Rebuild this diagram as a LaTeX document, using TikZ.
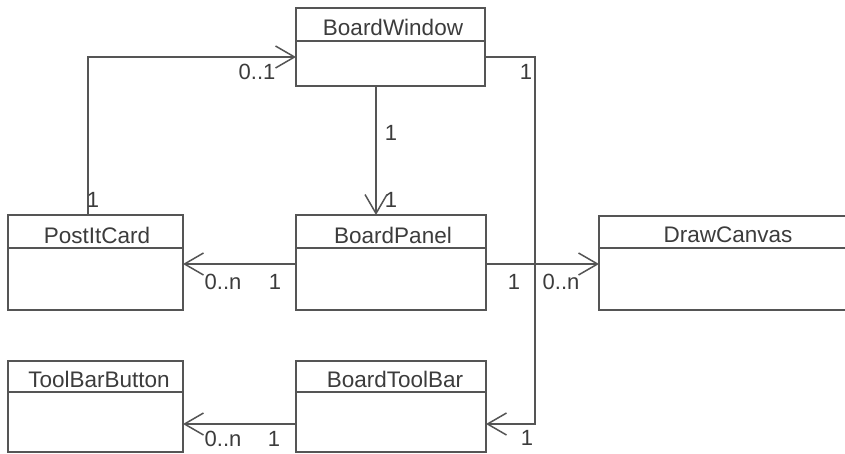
\documentclass[tikz,border=0pt]{standalone}
\usepackage{fontspec}
\setmainfont{Liberation Sans}
\usetikzlibrary{arrows.meta}
\definecolor{linegray}{RGB}{85,85,85}
\definecolor{textgray}{RGB}{60,60,60}
\begin{document}
\begin{tikzpicture}[x=1pt,y=-1pt,
  classbox/.style={draw=linegray, line width=1.5pt, rectangle, inner sep=0pt, outer sep=0pt},
  title/.style={text=textgray, font=\fontsize{22.5}{25}\selectfont, inner sep=0pt},
  mult/.style={text=textgray, font=\fontsize{22}{25}\selectfont, inner sep=0pt},
  hdr/.style={draw=linegray, line width=1.5pt},
  assoc/.style={draw=linegray, line width=1.5pt, -{Straight Barb[length=19pt,width=22pt,line width=1.5pt]}}]
\useasboundingbox (0,0) rectangle (845,454);
\fill[white] (0,0) rectangle (845,454);

% class boxes
\node[classbox, minimum width=189pt, minimum height=78pt] (bw) at (390.5,47) {};
\node[classbox, minimum width=175pt, minimum height=95pt] (pc) at (95.5,262.5) {};
\node[classbox, minimum width=190pt, minimum height=95pt] (bp) at (391,262.5) {};
\node[classbox, minimum width=258pt, minimum height=94pt] (dc) at (728,263) {};
\node[classbox, minimum width=175pt, minimum height=91pt] (tbb) at (95.5,406.5) {};
\node[classbox, minimum width=190pt, minimum height=91pt] (tb) at (391,406.5) {};

% header lines
\draw[hdr] (296,41) -- (485,41);
\draw[hdr] (8,248) -- (183,248);
\draw[hdr] (296,248) -- (486,248);
\draw[hdr] (599,248) -- (857,248);
\draw[hdr] (8,392) -- (183,392);
\draw[hdr] (296,392) -- (486,392);

% titles
\node[title] (bwt) at (393,27.5) {BoardWindow};
\node[title] (pct) at (97,235) {PostItCard};
\node[title] (bpt) at (393,235) {BoardPanel};
\node[title] (dct) at (728,235) {DrawCanvas};
\node[title] (tbbt) at (99,379) {ToolBarButton};
\node[title] (tbt) at (395,379) {BoardToolBar};

% connectors
\coordinate (cr) at (535,424);
\draw[assoc] ([xshift=80pt]pc.north west) |- ([yshift=-10pt]bw.west);
\draw[assoc] ([xshift=-14.5pt]bw.south) -- ([xshift=-15pt]bp.north);
\draw[assoc] ([yshift=-10pt]bw.east) -| (cr) -- (cr -| tb.east);
\draw[assoc] ([yshift=-1.5pt]bp.west) -- ([yshift=-1.5pt]pc.east);
\draw[assoc] ([yshift=-1.5pt]bp.east) -- ([yshift=-1pt]dc.west);
\draw[assoc] ([yshift=-17.5pt]tb.west) -- ([yshift=-17.5pt]tbb.east);

% multiplicities
\node[mult] (m1) at (93,200) {1};
\node[mult] (m2) at (257,72) {0..1};
\node[mult] (m3) at (391,133) {1};
\node[mult] (m4) at (391,200) {1};
\node[mult] (m5) at (526,72) {1};
\node[mult] (m6) at (527,438) {1};
\node[mult] (m7) at (223,282) {0..n};
\node[mult] (m8) at (275,282) {1};
\node[mult] (m9) at (514,282) {1};
\node[mult] (m10) at (561,282) {0..n};
\node[mult] (m11) at (223,439) {0..n};
\node[mult] (m12) at (274,439) {1};
\end{tikzpicture}
\end{document}
